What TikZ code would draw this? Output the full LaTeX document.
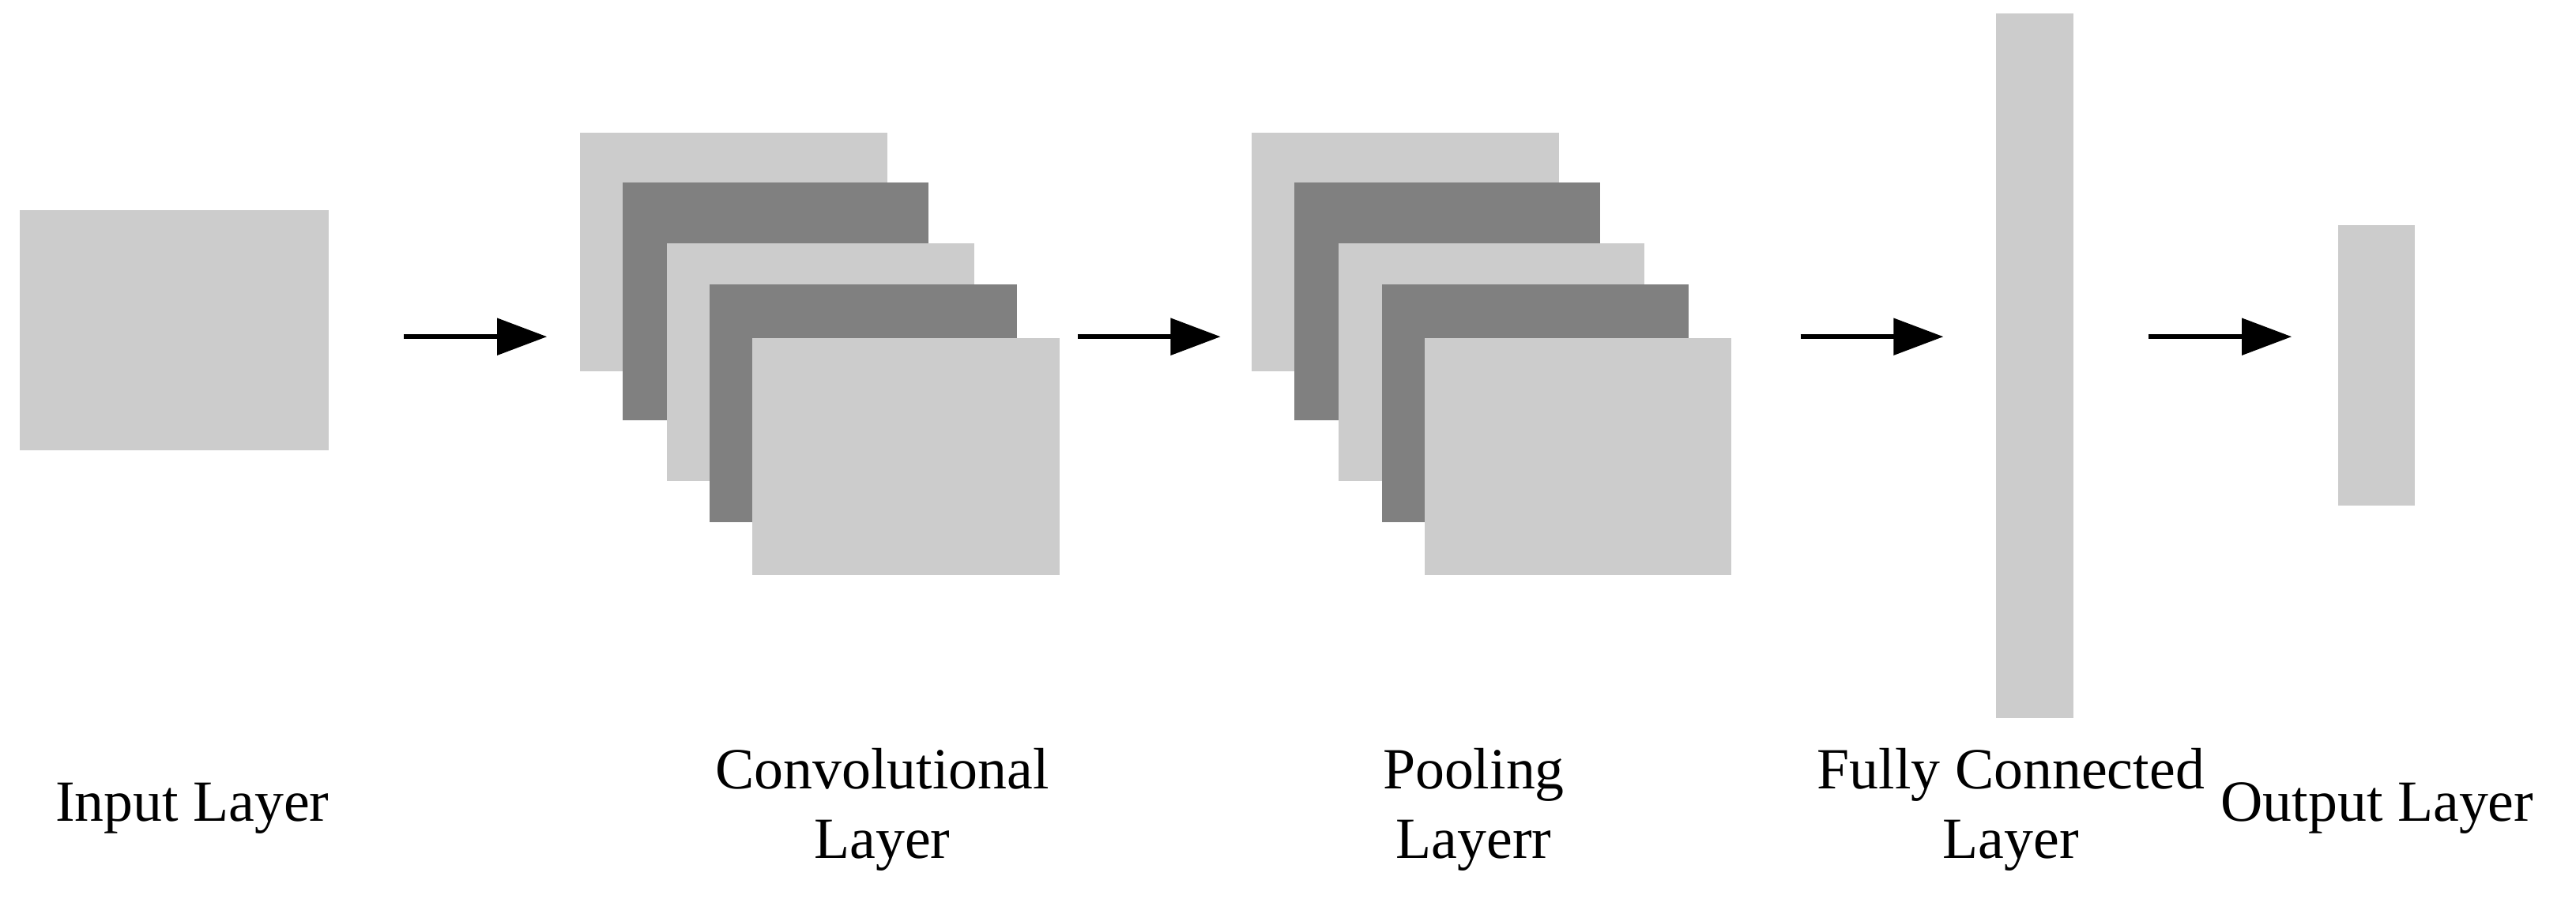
\documentclass[tikz,border=0pt]{standalone}
\usepackage{fontspec}
\setmainfont{Liberation Serif}
\usetikzlibrary{fit,arrows.meta}
\definecolor{lg}{HTML}{CCCCCC}
\definecolor{dg}{HTML}{808080}
\begin{document}
\begin{tikzpicture}[x=0.02079cm,y=-0.02079cm,
  lt/.style={fill=lg,draw=none,inner sep=0pt},
  dk/.style={fill=dg,draw=none,inner sep=0pt},
  arr/.style={line width=1.8pt,-{Triangle[length=18pt,width=13pt]}},
  lab/.style={font=\fontsize{21}{25}\selectfont,align=center}]
\useasboundingbox (0,0) rectangle (1568,556.5);
\node[lt,fit={(12,128) (200,274)}] (in) {};
% conv
\node[lt,fit={(353,81) (540,226)}] (c1) {};
\node[dk,fit={(379,111) (565,256)}] (c2) {};
\node[lt,fit={(406,148) (593,293)}] (c3) {};
\node[dk,fit={(432,173) (619,318)}] (c4) {};
\node[lt,fit={(458,206) (645,350)}] (c5) {};
% pool
\node[lt,fit={(762,81) (949,226)}] (p1) {};
\node[dk,fit={(788,111) (974,256)}] (p2) {};
\node[lt,fit={(815,148) (1001,293)}] (p3) {};
\node[dk,fit={(841,173) (1028,318)}] (p4) {};
\node[lt,fit={(867,206) (1054,350)}] (p5) {};
\node[lt,fit={(1215,8) (1262,437)}] (fc) {};
\node[lt,fit={(1423,137) (1470,308)}] (out) {};
\coordinate (a1s) at (246,205); \coordinate (a1e) at (333,205);
\coordinate (a2s) at (656,205); \coordinate (a2e) at (743,205);
\coordinate (a3s) at (1096,205); \coordinate (a3e) at (1183,205);
\coordinate (a4s) at (1308,205); \coordinate (a4e) at (1395,205);
\draw[arr] (a1s) -- (a1e);
\draw[arr] (a2s) -- (a2e);
\draw[arr] (a3s) -- (a3e);
\draw[arr] (a4s) -- (a4e);
\node[lab] (l1) at (117,492) {Input Layer};
\node[lab] (l2) at (537,493) {Convolutional\\Layer};
\node[lab] (l3) at (897,493) {Pooling\\Layerr};
\node[lab] (l4) at (1224,493) {Fully Connected\\Layer};
\node[lab] (l5) at (1447,492) {Output Layer};
\end{tikzpicture}
\end{document}
